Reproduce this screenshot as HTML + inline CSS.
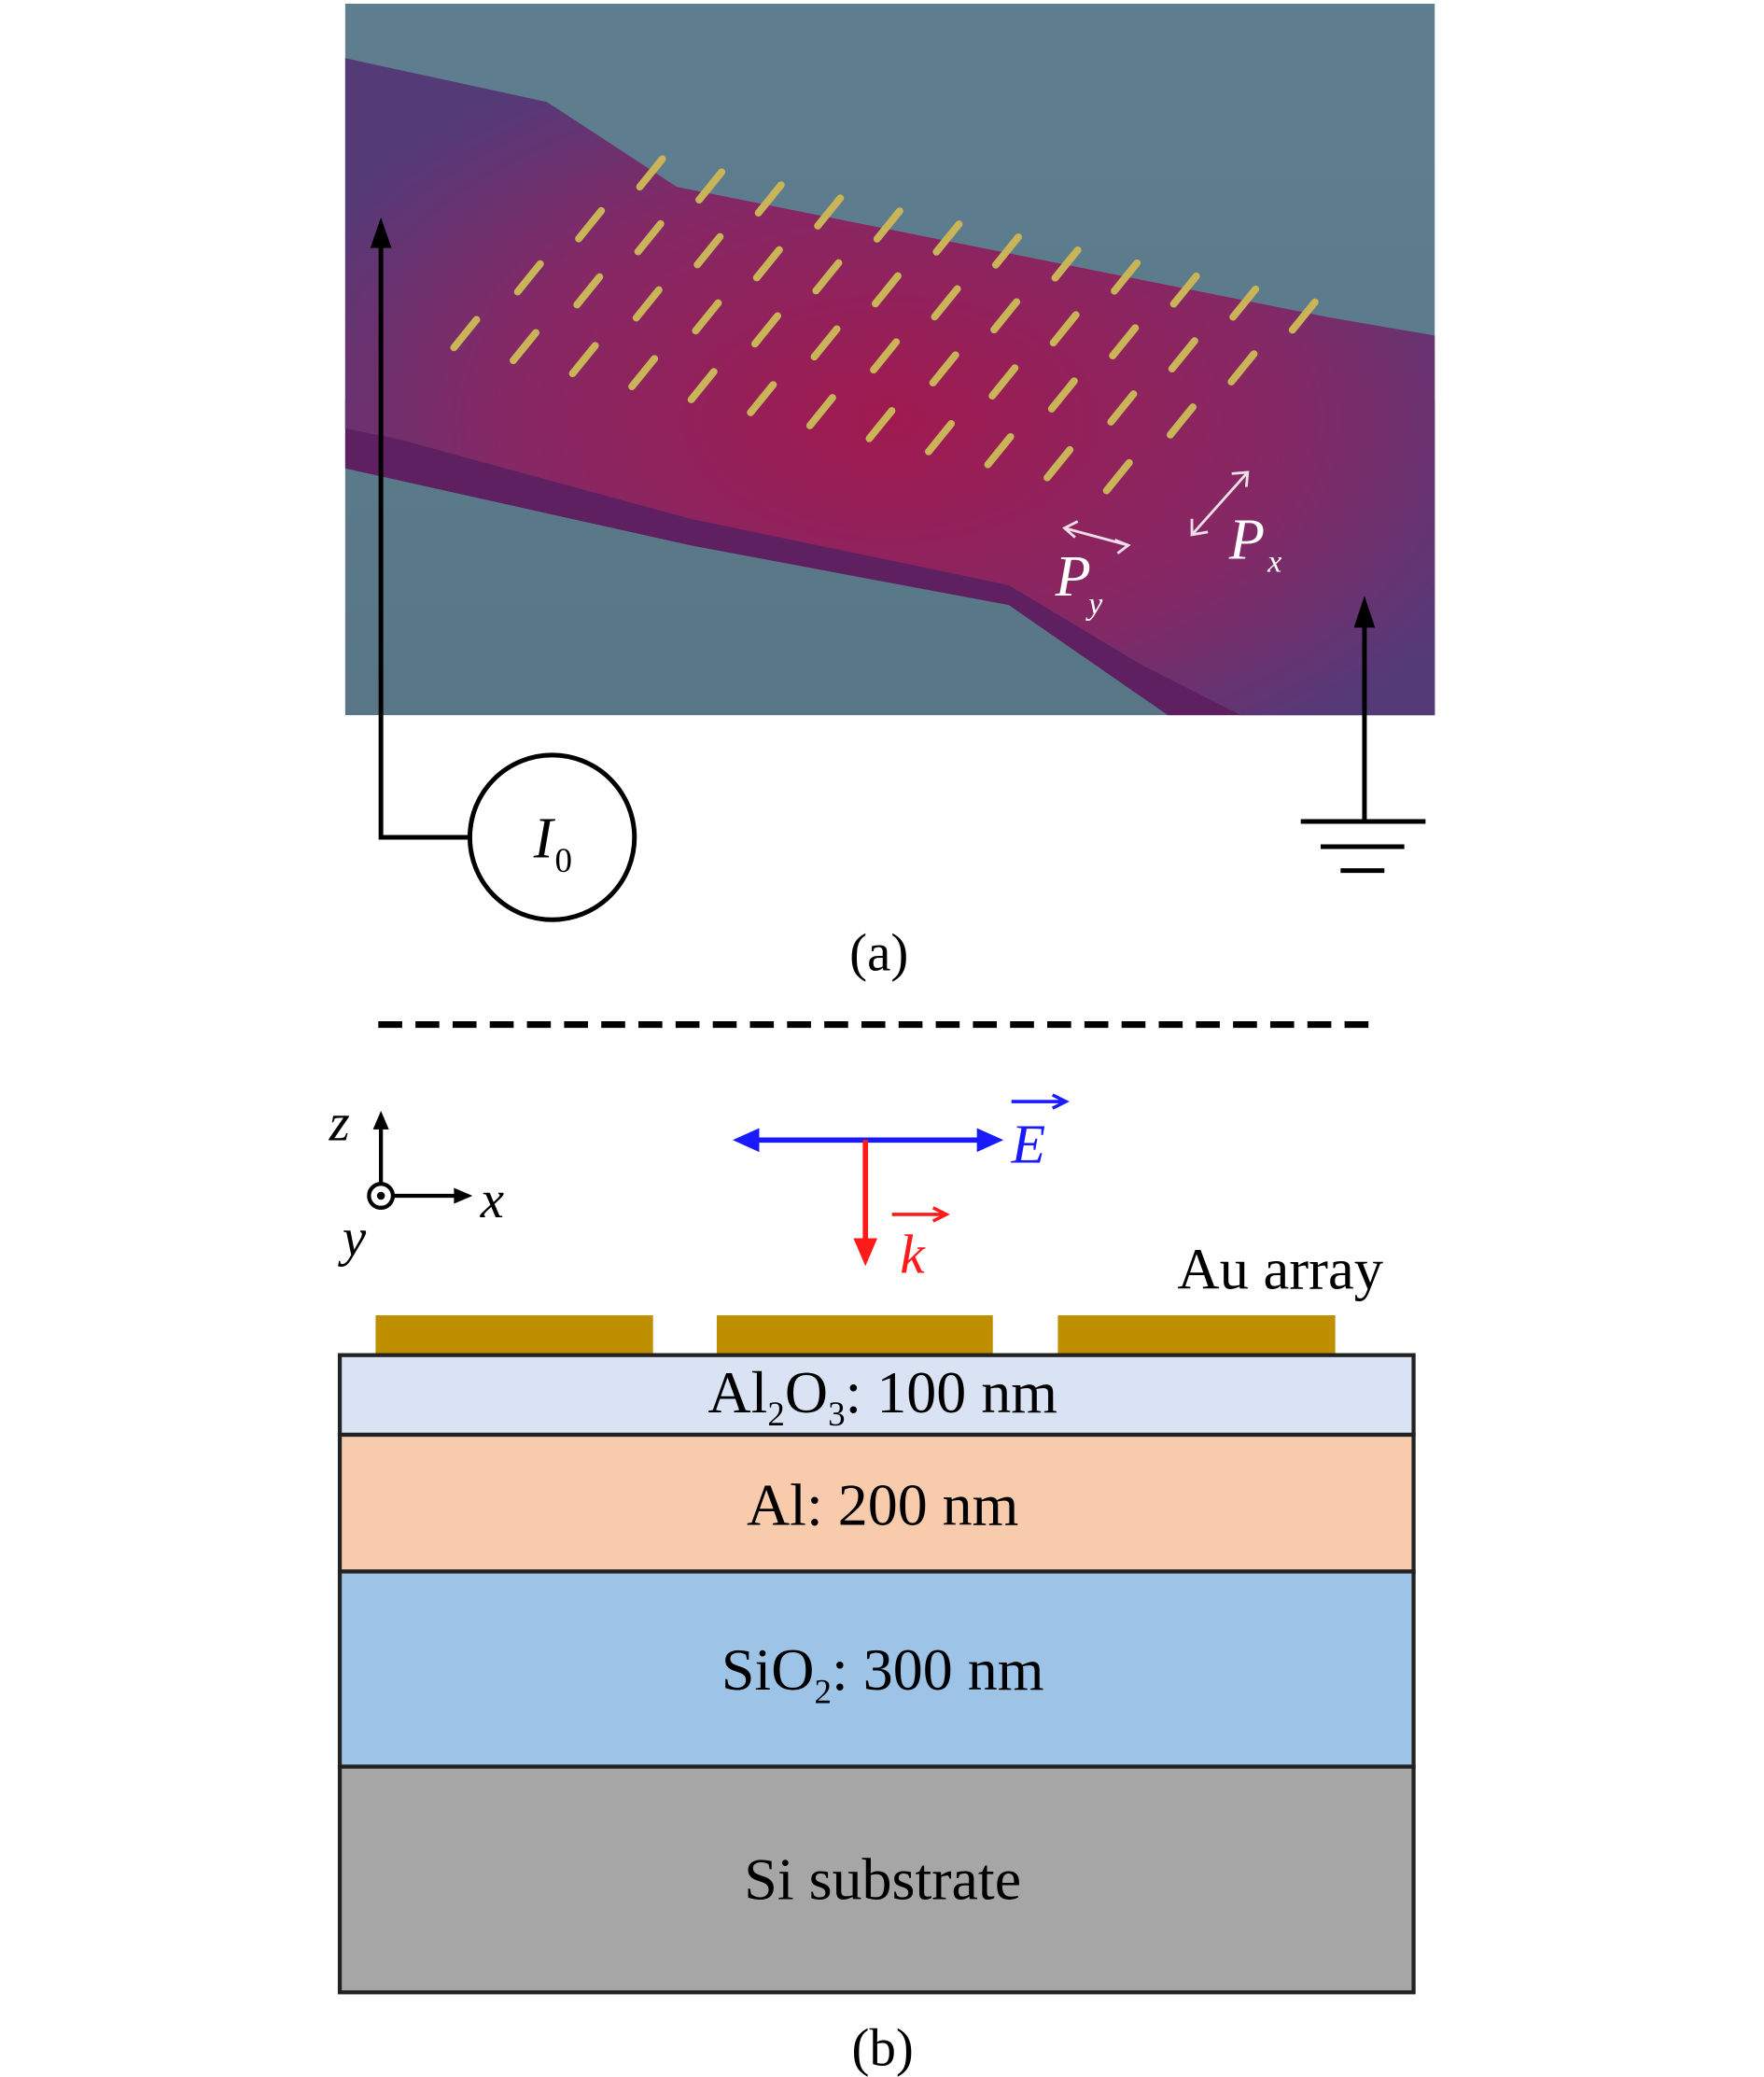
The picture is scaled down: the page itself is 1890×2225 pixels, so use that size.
<!DOCTYPE html>
<html><head><meta charset="utf-8"><style>
html,body{margin:0;padding:0;background:#fff;}
svg{display:block;}
text{font-family:"Liberation Serif",serif;}
</style></head><body>
<svg width="1890" height="2225" viewBox="0 0 1329 1563" xmlns="http://www.w3.org/2000/svg">
<defs>
<radialGradient id="rg" cx="0.5" cy="0.55" r="0.6">
<stop offset="0" stop-color="#a01a50"/><stop offset="0.6" stop-color="#852865"/><stop offset="1" stop-color="#553a78"/>
</radialGradient>
<linearGradient id="bg" x1="0" y1="0" x2="0" y2="1">
<stop offset="0" stop-color="#5f7f90"/><stop offset="1" stop-color="#587686"/>
</linearGradient>
<clipPath id="cp"><rect x="260" y="2" width="821" height="536"/></clipPath>
<g id="row">
<line x1="0" y1="0" x2="17" y2="-21"/>
<line x1="44.7" y1="9.8" x2="61.7" y2="-11.2"/>
<line x1="89.4" y1="19.6" x2="106.4" y2="-1.4"/>
<line x1="134.1" y1="29.4" x2="151.1" y2="8.4"/>
<line x1="178.8" y1="39.2" x2="195.8" y2="18.2"/>
<line x1="223.5" y1="49" x2="240.5" y2="28"/>
<line x1="268.2" y1="58.8" x2="285.2" y2="37.8"/>
<line x1="312.9" y1="68.6" x2="329.9" y2="47.6"/>
<line x1="357.6" y1="78.4" x2="374.6" y2="57.4"/>
<line x1="402.3" y1="88.2" x2="419.3" y2="67.2"/>
<line x1="447" y1="98" x2="464" y2="77"/>
<line x1="491.7" y1="107.8" x2="508.7" y2="86.8"/>
</g>
</defs>
<g clip-path="url(#cp)">
<rect x="260" y="2" width="821" height="536" fill="url(#bg)"/>
<polygon points="260,352 520,410 760,455 880,538 1081,538 1081,300 260,300" fill="#5e2060"/>
<polygon points="260,43 412,76 510,140 1000,238 1081,252 1081,538 935,538 860,500 760,440 520,390 300,330 260,322" fill="url(#rg)"/>
<g stroke="#c9b458" stroke-width="5.5" stroke-linecap="round">
<use href="#row" transform="translate(482,140)"/>
<use href="#row" transform="translate(436,179)"/>
<use href="#row" transform="translate(390,219)"/>
<use href="#row" transform="translate(342,261)" />
</g>
</g>
<g stroke="#fff" stroke-width="2" fill="none" opacity="0.85">
<line x1="802" y1="397" x2="850" y2="410"/><polyline points="812,392 802,397 810,404"/><polyline points="840,406 850,410 842,416"/>
<line x1="898" y1="402" x2="940" y2="355"/><polyline points="898,390 898,402 910,400"/><polyline points="928,356 940,355 939,366"/>
</g>
<text x="795" y="448" font-size="44" font-style="italic" fill="#fff">P</text><text x="820" y="462" font-size="24" font-style="italic" fill="#fff">y</text>
<text x="926" y="420" font-size="44" font-style="italic" fill="#fff">P</text><text x="955" y="430" font-size="24" font-style="italic" fill="#fff">x</text>
<g stroke="#000" stroke-width="3.5" fill="none">
<polyline points="287,185 287,630 355,630"/>
<circle cx="416" cy="630" r="62"/>
<line x1="1028" y1="470" x2="1028" y2="618"/>
<line x1="980" y1="618" x2="1074" y2="618"/>
<line x1="995" y1="637" x2="1058" y2="637"/>
<line x1="1010" y1="655" x2="1043" y2="655"/>
</g>
<polygon points="287,163 279,186 295,186" fill="#000"/>
<polygon points="1028,448 1020,472 1036,472" fill="#000"/>
<text x="402" y="645" font-size="44" font-style="italic">I</text><text x="418" y="656" font-size="26">0</text>
<text x="640" y="730" font-size="40">(a)</text>
<line x1="285" y1="771" x2="1035" y2="771" stroke="#000" stroke-width="5" stroke-dasharray="18,10"/>
<g stroke="#000" stroke-width="3" fill="none">
<line x1="287" y1="892" x2="287" y2="845"/><line x1="295" y1="900" x2="345" y2="900"/>
<circle cx="287" cy="900" r="9"/>
</g>
<circle cx="287" cy="900" r="3" fill="#000"/>
<polygon points="287,836 281,850 293,850" fill="#000"/>
<polygon points="356,900 342,894 342,906" fill="#000"/>
<text x="248" y="858" font-size="40" font-style="italic">z</text>
<text x="362" y="916" font-size="40" font-style="italic">x</text>
<text x="258" y="945" font-size="40" font-style="italic">y</text>
<line x1="568" y1="858" x2="740" y2="858" stroke="#1a1aff" stroke-width="4"/>
<polygon points="552,858 572,849 572,867" fill="#1a1aff"/>
<polygon points="756,858 736,849 736,867" fill="#1a1aff"/>
<line x1="652" y1="858" x2="652" y2="935" stroke="#ff1a1a" stroke-width="4"/>
<polygon points="652,953 643,932 661,932" fill="#ff1a1a"/>
<text x="762" y="875" font-size="42" font-style="italic" fill="#1a1aff">E</text>
<line x1="762" y1="829" x2="800" y2="829" stroke="#1a1aff" stroke-width="2.5"/><polyline points="793,824 803,829 793,834" stroke="#1a1aff" stroke-width="2.5" fill="none"/>
<text x="678" y="958" font-size="42" font-style="italic" fill="#ff1a1a">k</text>
<line x1="672" y1="914" x2="710" y2="914" stroke="#ff1a1a" stroke-width="2.5"/><polyline points="703,909 713,914 703,919" stroke="#ff1a1a" stroke-width="2.5" fill="none"/>
<text x="887" y="970" font-size="44">Au array</text>
<g fill="#bf8f00">
<rect x="283" y="990" width="209" height="30"/><rect x="540" y="990" width="208" height="30"/><rect x="797" y="990" width="209" height="30"/>
</g>
<g stroke="#222" stroke-width="3">
<rect x="256" y="1020" width="809" height="60" fill="#dae3f3"/>
<rect x="256" y="1080" width="809" height="103" fill="#f8cbad"/>
<rect x="256" y="1183" width="809" height="147" fill="#9dc3e6"/>
<rect x="256" y="1330" width="809" height="170" fill="#a6a6a6"/>
</g>
<text x="665" y="1063" font-size="45" text-anchor="middle">Al<tspan font-size="26" dy="10">2</tspan><tspan dy="-10">O</tspan><tspan font-size="26" dy="10">3</tspan><tspan dy="-10">: 100 nm</tspan></text>
<text x="665" y="1148" font-size="45" text-anchor="middle">Al: 200 nm</text>
<text x="665" y="1272" font-size="45" text-anchor="middle">SiO<tspan font-size="26" dy="10">2</tspan><tspan dy="-10">: 300 nm</tspan></text>
<text x="665" y="1430" font-size="45" text-anchor="middle">Si substrate</text>
<text x="665" y="1555" font-size="40" text-anchor="middle">(b)</text>
</svg>
</body></html>
